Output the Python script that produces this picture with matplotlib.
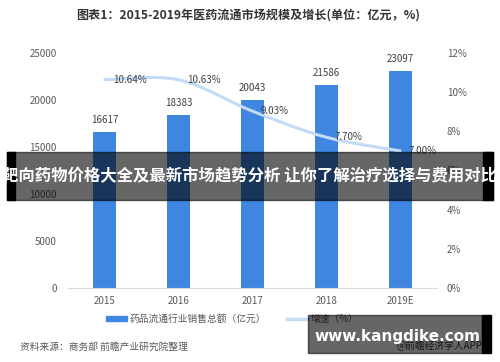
import numpy as np
import matplotlib.pyplot as plt
from matplotlib.path import Path
from matplotlib.patches import PathPatch, Rectangle
from matplotlib.lines import Line2D

plt.rcParams['font.family'] = ['Noto Sans CJK SC', 'DejaVu Sans']

years = ['2015', '2016', '2017', '2018', '2019E']
sales = [16617, 18383, 20043, 21586, 23097]
growth = [10.64, 10.63, 9.03, 7.70, 7.00]

bar_color = '#3f86e0'
line_color = '#c3dbf6'
tick_color = '#595959'

W, H = 500, 362
fig = plt.figure(figsize=(W / 100, H / 100), dpi=100)
ax = fig.add_axes([68 / W, 1 - 288 / H, (437 - 68) / W, (288 - 53) / H])
ax2 = ax.twinx()

x = np.arange(len(years))
ax.bar(x, sales, width=0.31, color=bar_color, zorder=2)
for xi, v in zip(x, sales):
    ax.annotate(str(v), (xi, v), xytext=(0, 5), textcoords='offset points',
                ha='center', va='bottom', fontsize=7, color='#404040')

ax.set_xlim(-0.5, len(years) - 0.5)
ax.set_ylim(0, 25000)
ax.set_yticks(range(0, 25001, 5000))
ax.set_xticks(x, years)
ax2.set_ylim(0, 12)
ax2.set_yticks(range(0, 13, 2))
ax2.set_yticklabels([f'{t}%' for t in range(0, 13, 2)])

for a in (ax, ax2):
    for s in a.spines.values():
        s.set_visible(False)
    a.tick_params(length=0, labelsize=7, colors=tick_color)
ax.spines['bottom'].set_visible(True)
ax.spines['bottom'].set_color('#d9d9d9')
ax.tick_params(axis='y', pad=8)
ax.tick_params(axis='x', pad=6)
ax2.tick_params(axis='y', pad=7)

# smoothed growth line (Catmull-Rom as cubic Bezier)
pts = np.column_stack([x, growth]).astype(float)
verts = [tuple(pts[0])]
codes = [Path.MOVETO]
n = len(pts)
for i in range(n - 1):
    p0 = pts[max(i - 1, 0)]
    p1 = pts[i]
    p2 = pts[i + 1]
    p3 = pts[min(i + 2, n - 1)]
    c1 = p1 + (p2 - p0) / 6
    c2 = p2 - (p3 - p1) / 6
    verts += [tuple(c1), tuple(c2), tuple(p2)]
    codes += [Path.CURVE4] * 3
ax2.add_patch(PathPatch(Path(verts, codes), facecolor='none', edgecolor=line_color,
                        lw=2.2, zorder=3, capstyle='round'))
for xi, g in zip(x, growth):
    ax2.annotate(f'{g:.2f}%', (xi, g), xytext=(6, 0), textcoords='offset points',
                 ha='left', va='center', fontsize=7, color='#404040')

# title and source
fig.text(248 / W, 1 - 15 / H, '图表1：2015-2019年医药流通市场规模及增长(单位：亿元，%)',
         ha='center', va='center', fontsize=8.7, fontweight='bold', color='#333333')
fig.text(20 / W, 1 - 347 / H, '资料来源：商务部 前瞻产业研究院整理',
         ha='left', va='center', fontsize=7, color=tick_color)

# legend
handles = [Rectangle((0, 0), 1, 1, color=bar_color),
           Line2D([], [], color=line_color, lw=2.5)]
fig.legend(handles, ['药品流通行业销售总额（亿元）', '增速（%）'], ncol=2,
           loc='center', bbox_to_anchor=(232 / W, 1 - 319 / H), frameon=False,
           fontsize=7, handlelength=2.2, handleheight=0.35, columnspacing=2.2,
           handletextpad=0.2, labelcolor=tick_color)

# overlay banner
fig.patches.append(Rectangle((7 / W, 1 - 200 / H), (493 - 7) / W, 48 / H,
                             transform=fig.transFigure, color='black', alpha=0.6, zorder=10))
fig.patches.append(Rectangle((7 / W, 1 - 200 / H), 8 / W, 48 / H,
                             transform=fig.transFigure, color='black', zorder=10))
fig.patches.append(Rectangle((483 / W, 1 - 200 / H), 10 / W, 48 / H,
                             transform=fig.transFigure, color='black', zorder=10))
fig.text(250 / W, 1 - 176 / H, '靶向药物价格大全及最新市场趋势分析 让你了解治疗选择与费用对比',
         ha='center', va='center', fontsize=11.8, fontweight='bold', color='white', zorder=11)

# watermark box
fig.text(482 / W, 1 - 346 / H, '@前瞻经济学人APP', ha='right', va='center',
         fontsize=7, color='#333333', zorder=9)
fig.patches.append(Rectangle((308 / W, 1 - 353 / H), (482 - 308) / W, 38 / H,
                             transform=fig.transFigure, color='black', alpha=0.6, zorder=10))
fig.patches.append(Rectangle((482 / W, 1 - 353 / H), 9 / W, 38 / H,
                             transform=fig.transFigure, color='black', zorder=10))
fig.text(397 / W, 1 - 337 / H, 'www.kangdike.com', ha='center', va='center',
         fontsize=11, fontweight='bold', color='white', family='DejaVu Sans', zorder=11)

fig.savefig('out.png', dpi=100)
